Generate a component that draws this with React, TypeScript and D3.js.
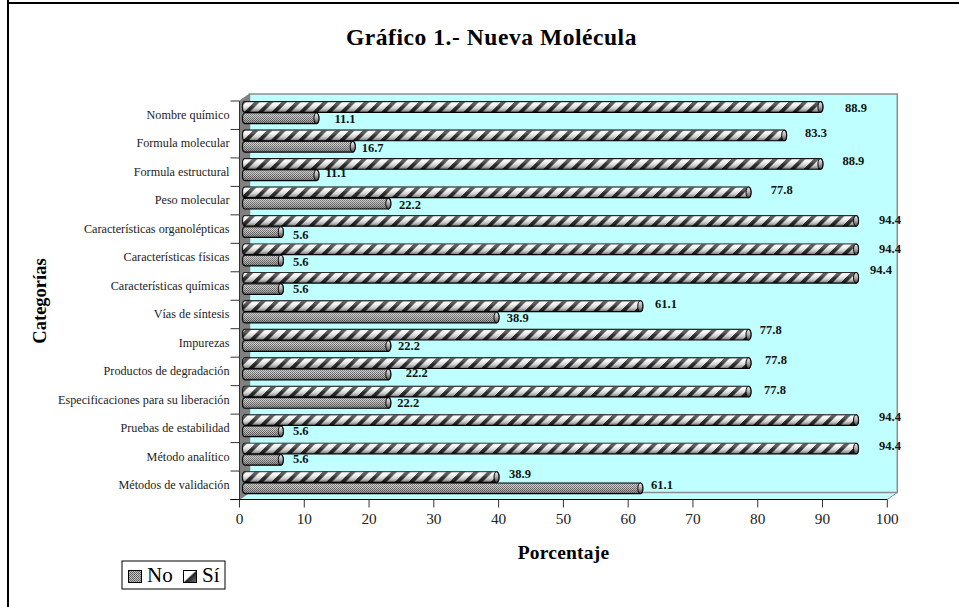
import React from "react";
import * as d3 from "d3";

const categories = ["Nombre químico","Formula molecular","Formula estructural","Peso molecular","Características organolépticas","Características físicas","Características químicas","Vías de síntesis","Impurezas","Productos de degradación","Especificaciones para su liberación","Pruebas de estabilidad","Método analítico","Métodos de validación"];
const siValues = [88.9,83.3,88.9,77.8,94.4,94.4,94.4,61.1,77.8,77.8,77.8,94.4,94.4,38.9];
const noValues = [11.1,16.7,11.1,22.2,5.6,5.6,5.6,38.9,22.2,22.2,22.2,5.6,5.6,61.1];
// hand-placed data label offsets of the original (label centre relative to value / band top)
const siLabelDx = [40.6,36.9,38,38.2,39,39,30,30.7,27.2,32.5,31.5,39,39,28.5];
const siLabelDy = [6.7,3.8,3,3.9,5.2,5.7,-1.8,4.1,1.3,2.9,4.4,3,3.5,3];
const noLabelDx = [33.6,25,24.6,26.7,25,25,25,26.2,25.7,33.4,25,25,25,26.7];
const noLabelDy = [18.3,18.2,15.3,18.6,20.2,18.7,17.2,17.5,17.3,15.6,17.1,17,16.5,14];
const ticks = [0,10,20,30,40,50,60,70,80,90,100];

const W = 959, H = 607;
const x0 = 239.5, x1 = 887.3, yTop = 101, yBot = 499.5;
const depth = 10, dy = 7;
const serif = "'Liberation Serif',serif";

export default function App() {
  const x = d3.scaleLinear().domain([0,100]).range([x0,x1]);
  const y = d3.scaleBand().domain(categories).range([yTop,yBot]);
  const barH = 10.6, rx = 2.5, shift = 5;
  const left = x(0)+shift+rx-2;
  const barPath = (len: number, top: number) => {
    const right = x(len)+shift;
    return `M${left},${top} L${right},${top} A${rx},${barH/2} 0 0 1 ${right},${top+barH} L${left},${top+barH} A${rx},${barH/2} 0 0 1 ${left},${top} Z`;
  };
  const capPath = (len: number, top: number) => {
    const right = x(len)+shift;
    return `M${right},${top} A${rx},${barH/2} 0 0 0 ${right},${top+barH} A${rx},${barH/2} 0 0 0 ${right},${top} Z`;
  };
  return (
    <svg width={W} height={H} style={{position:"absolute",left:0,top:0,background:"#fff",fontFamily:serif}}>
      <defs>
        <linearGradient id="shade" x1="0" y1="0" x2="0" y2="1">
          <stop offset="0" stopColor="#fff" stopOpacity="0.35"/>
          <stop offset="0.3" stopColor="#fff" stopOpacity="0.3"/>
          <stop offset="0.6" stopColor="#777" stopOpacity="0.25"/>
          <stop offset="1" stopColor="#000" stopOpacity="0.6"/>
        </linearGradient>
        <linearGradient id="capFill" x1="0" y1="0" x2="0" y2="1">
          <stop offset="0" stopColor="#eee"/>
          <stop offset="0.5" stopColor="#aaa"/>
          <stop offset="1" stopColor="#444"/>
        </linearGradient>
        <pattern id="stripe" width="13.7" height="14" patternUnits="userSpaceOnUse" patternTransform="skewX(-45)">
          <rect width="13.7" height="14" fill="#f4f4f4"/>
          <rect width="5.5" height="14" fill="#111"/>
        </pattern>
        <pattern id="dots" width="2" height="2" patternUnits="userSpaceOnUse">
          <rect width="2" height="2" fill="#c8c8c8"/>
          <rect width="1" height="1" fill="#555"/>
          <rect x="1" y="1" width="1" height="1" fill="#666"/>
        </pattern>
        <linearGradient id="leg" x1="0" y1="0" x2="1" y2="1">
          <stop offset="0.45" stopColor="#fff"/>
          <stop offset="0.55" stopColor="#222"/>
          <stop offset="1" stopColor="#777"/>
        </linearGradient>
      </defs>

      <line x1={8} y1={0} x2={8} y2={H} stroke="#000" strokeWidth={2}/>
      <line x1={7} y1={3} x2={W} y2={3} stroke="#000" strokeWidth={2}/>
      <text x={491.5} y={45} textAnchor="middle" fontSize={23.5} fontWeight="bold" letterSpacing={0.55}>Gráfico 1.- Nueva Molécula</text>

      {/* 3D walls */}
      <polygon points={`${x0},${yBot} ${x0+depth},${yBot-dy} ${x1+depth},${yBot-dy} ${x1},${yBot}`} fill="#c0ffff"/>
      <rect x={x0+depth} y={yTop-dy} width={x1-x0} height={yBot-yTop} fill="#c0ffff" stroke="#8c8c8c" strokeWidth={1.5}/>
      <polygon points={`${x0},${yTop} ${x0+depth},${yTop-dy} ${x0+depth},${yBot-dy} ${x0},${yBot}`} fill="#808080" stroke="#808080"/>
      <line x1={x1} y1={yBot} x2={x1+depth} y2={yBot-dy} stroke="#8c8c8c"/>

      {/* axes */}
      {d3.range(categories.length+1).map(i=>{
        const t = yTop + i*(yBot-yTop)/categories.length;
        return <line key={i} x1={x0-9} x2={x0} y1={t} y2={t} stroke="#333"/>;
      })}
      <line x1={x0} y1={yTop} x2={x0} y2={yBot} stroke="#333"/>
      <line x1={x0-9} x2={x1} y1={yBot} y2={yBot} stroke="#000"/>
      {ticks.map(t=>(
        <g key={t}>
          <line x1={x(t)} x2={x(t)} y1={yBot} y2={yBot+8} stroke="#333"/>
          <text x={x(t)} y={yBot+24.5} textAnchor="middle" fontSize={15.3} fill="#222">{t}</text>
        </g>
      ))}

      {/* bars */}
      {categories.map((c,i)=>{
        const b = y(c)!;
        const siTop = b+0.7;
        const noTop = b+12;
        return (
          <g key={c}>
            <path d={barPath(siValues[i],siTop)} fill="url(#stripe)" stroke="#000" strokeWidth={1.2}/>
            <path d={barPath(siValues[i],siTop)} fill="url(#shade)"/>
            <path d={capPath(siValues[i],siTop)} fill="url(#capFill)" stroke="#000" strokeWidth={1}/>
            <path d={barPath(noValues[i],noTop)} fill="url(#dots)" stroke="#000" strokeWidth={1.2}/>
            <path d={barPath(noValues[i],noTop)} fill="url(#shade)" opacity={0.55}/>
            <path d={capPath(noValues[i],noTop)} fill="url(#capFill)" stroke="#000" strokeWidth={1}/>
            <text x={x(siValues[i])+siLabelDx[i]} y={b+siLabelDy[i]+4} textAnchor="middle" fontSize={12.5} fontWeight="bold" fill="#111">{siValues[i].toFixed(1)}</text>
            <text x={x(noValues[i])+noLabelDx[i]} y={b+noLabelDy[i]+4} textAnchor="middle" fontSize={12.5} fontWeight="bold" fill="#111">{noValues[i].toFixed(1)}</text>
            <text x={229.5} y={b+18} textAnchor="end" fontSize={12.2} fill="#222">{c}</text>
          </g>
        );
      })}

      <text transform="translate(46,301) rotate(-90)" textAnchor="middle" fontSize={18.5} fontWeight="bold">Categorías</text>
      <text x={563.5} y={559} textAnchor="middle" fontSize={19.5} fontWeight="bold" letterSpacing={0.2}>Porcentaje</text>

      {/* legend */}
      <rect x={122} y={561} width={103} height={28} fill="#fff" stroke="#000"/>
      <rect x={128.5} y={570.5} width={13} height={12} fill="url(#dots)" stroke="#000"/>
      <text x={147} y={582} fontSize={21}>No</text>
      <rect x={183.5} y={570.5} width={13} height={12} fill="url(#leg)" stroke="#000"/>
      <text x={202} y={582} fontSize={21}>Sí</text>
    </svg>
  );
}
